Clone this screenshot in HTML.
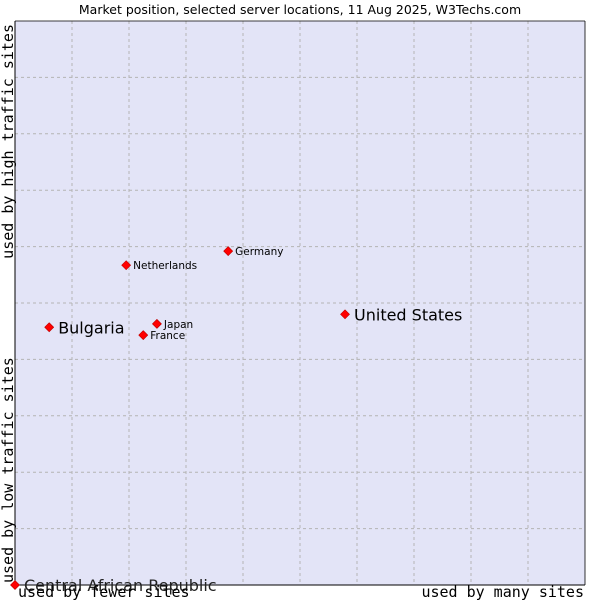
<!DOCTYPE html>
<html><head><meta charset="utf-8"><style>
body{margin:0;background:#fff;width:600px;height:600px;overflow:hidden}
svg{display:block}
</style></head><body>
<svg id="chart" width="600" height="600" xmlns="http://www.w3.org/2000/svg">
<text x="300" y="14" text-anchor="middle" font-family="DejaVu Sans, sans-serif" font-size="12.5" fill="#000">Market position, selected server locations, 11 Aug 2025, W3Techs.com</text>
<rect x="15" y="21" width="570" height="564" fill="#e3e4f7"/>
<g id="grid"></g>
<line x1="15" y1="21" x2="15" y2="585" stroke="#000"/>
<line x1="15" y1="585" x2="585" y2="585" stroke="#000"/>
<line x1="15" y1="21" x2="585" y2="21" stroke="#000" stroke-width="0.8"/>
<line x1="585" y1="21" x2="585" y2="585" stroke="#000" stroke-width="0.8"/>
<g id="points"></g>
<text x="18" y="597" font-family="DejaVu Sans Mono, monospace" font-size="15">used by fewer sites</text>
<text x="584" y="597" text-anchor="end" font-family="DejaVu Sans Mono, monospace" font-size="15">used by many sites</text>
<text transform="translate(13,583) rotate(-90)" font-family="DejaVu Sans Mono, monospace" font-size="15">used by low traffic sites</text>
<text transform="translate(13,24) rotate(-90)" text-anchor="end" font-family="DejaVu Sans Mono, monospace" font-size="15">used by high traffic sites</text>
</svg>
<script>
const names=["Central African Republic","Bulgaria","United States","Germany","Netherlands","Japan","France"];
const xVals=[0,6.0,57.9,37.4,19.5,24.9,22.5];
const yVals=[0,45.7,48.0,59.2,56.7,46.3,44.3];
const bigLabel=[true,true,true,false,false,false,false];
const NS="http://www.w3.org/2000/svg";
function sx(v){return 15+v*5.7;}
function sy(v){return 585-v*5.64;}
const grid=document.getElementById('grid');
for(let i=1;i<10;i++){
  const l=document.createElementNS(NS,'line');
  l.setAttribute('x1',sx(i*10));l.setAttribute('x2',sx(i*10));l.setAttribute('y1',21);l.setAttribute('y2',585);
  l.setAttribute('stroke','#b4b4b4');l.setAttribute('stroke-dasharray','3,3');
  
  
  grid.appendChild(l);
  const h=document.createElementNS(NS,'line');
  h.setAttribute('y1',sy(i*10));h.setAttribute('y2',sy(i*10));h.setAttribute('x1',15);h.setAttribute('x2',585);
  h.setAttribute('stroke','#b4b4b4');h.setAttribute('stroke-dasharray','3,3');
  
  
  grid.appendChild(h);
}
const pts=document.getElementById('points');
names.forEach((n,i)=>{
  const x=sx(xVals[i]),y=sy(yVals[i]);
  const d=document.createElementNS(NS,'path');
  d.setAttribute('d',`M${x} ${y-4.5}L${x+4.5} ${y}L${x} ${y+4.5}L${x-4.5} ${y}Z`);
  d.setAttribute('fill','#ff0000');d.setAttribute('stroke','#c00000');d.setAttribute('stroke-width','0.6');d.setAttribute('stroke-linejoin','round');
  
  
  pts.appendChild(d);
  const t=document.createElementNS(NS,'text');
  t.setAttribute('x',x+(bigLabel[i]?9:7));
  t.setAttribute('y',y+(bigLabel[i]?6:4));
  t.setAttribute('font-family','DejaVu Sans, sans-serif');
  t.setAttribute('font-size',bigLabel[i]?'16':'10.5');
  t.setAttribute('fill',i===0?'#222':'#000');
  t.textContent=n;
  
  
  pts.appendChild(t);
});
</script>
</body></html>
